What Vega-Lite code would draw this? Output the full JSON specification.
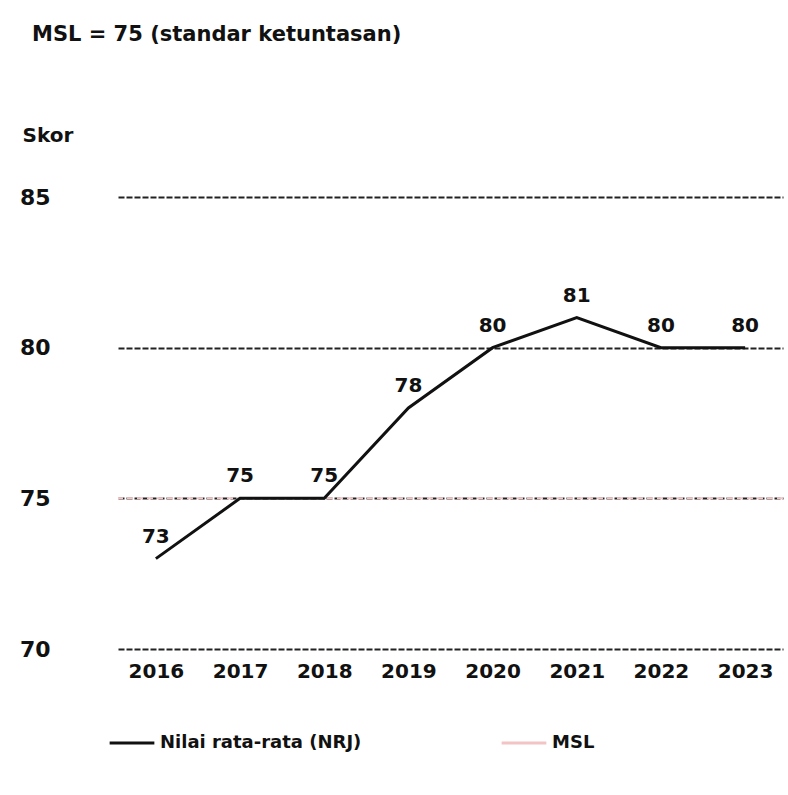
{
  "$schema": "https://vega.github.io/schema/vega-lite/v6.json",
  "autosize": {"type": "none"},
  "width": 665,
  "height": 452,
  "padding": {"left": 118, "top": 197, "right": 5, "bottom": 146},
  "background": "white",
  "config": {"view": {"stroke": null}, "font": "DejaVu Sans"},
  "title": {
    "text": "MSL = 75 (standar ketuntasan)",
    "anchor": "start",
    "frame": "group",
    "dx": -86,
    "offset": 80,
    "fontSize": 21,
    "fontWeight": "bold",
    "color": "#111"
  },
  "datasets": {
    "scores": [
      {"year": "2016", "value": 73, "series": "Nilai rata-rata (NRJ)"},
      {"year": "2017", "value": 75, "series": "Nilai rata-rata (NRJ)"},
      {"year": "2018", "value": 75, "series": "Nilai rata-rata (NRJ)"},
      {"year": "2019", "value": 78, "series": "Nilai rata-rata (NRJ)"},
      {"year": "2020", "value": 80, "series": "Nilai rata-rata (NRJ)"},
      {"year": "2021", "value": 81, "series": "Nilai rata-rata (NRJ)"},
      {"year": "2022", "value": 80, "series": "Nilai rata-rata (NRJ)"},
      {"year": "2023", "value": 80, "series": "Nilai rata-rata (NRJ)"}
    ],
    "msl": [{"msl": 75, "series": "MSL"}]
  },
  "layer": [
    {
      "data": {"name": "msl"},
      "mark": {"type": "rule", "strokeWidth": 2, "strokeDash": [6, 4]},
      "encoding": {
        "y": {"field": "msl", "type": "quantitative", "scale": {"domain": [70, 85]}},
        "color": {"field": "series", "type": "nominal"}
      }
    },
    {
      "data": {"name": "scores"},
      "mark": {"type": "line", "strokeWidth": 3},
      "encoding": {
        "x": {
          "field": "year", "type": "ordinal",
          "scale": {"type": "point", "padding": 0.45},
          "axis": {"title": null, "domain": false, "ticks": false, "labelAngle": 0, "labelFontSize": 20, "labelFontWeight": "bold", "labelColor": "#111", "labelPadding": 12}
        },
        "y": {
          "field": "value", "type": "quantitative",
          "scale": {"domain": [70, 85], "nice": false, "zero": false},
          "axis": {
            "values": [70, 75, 80, 85],
            "title": "Skor",
            "titleAngle": 0, "titleAlign": "left", "titleBaseline": "middle",
            "titleX": -96, "titleY": -62, "titleFontSize": 20, "titleFontWeight": "bold", "titleColor": "#111",
            "domain": false, "ticks": false,
            "labelFontSize": 22, "labelFontWeight": "bold", "labelColor": "#111", "labelPadding": 68,
            "gridColor": "#222", "gridDash": [6, 2], "gridWidth": 2
          }
        },
        "color": {
          "field": "series", "type": "nominal",
          "scale": {"domain": ["Nilai rata-rata (NRJ)", "MSL"], "range": ["#111111", "#f3c4c4"]},
          "legend": {
            "title": null, "orient": "none", "direction": "horizontal",
            "legendX": -10, "legendY": 522,
            "symbolType": "stroke", "symbolStrokeWidth": 3, "symbolSize": 2000,
            "labelFontSize": 18, "labelFontWeight": "bold", "labelColor": "#111",
            "columnPadding": 133, "labelLimit": 400
          }
        }
      }
    },
    {
      "data": {"name": "scores"},
      "mark": {"type": "text", "fontSize": 20, "fontWeight": "bold", "dy": -22, "color": "#111"},
      "encoding": {
        "x": {"field": "year", "type": "ordinal"},
        "y": {"field": "value", "type": "quantitative"},
        "text": {"field": "value", "type": "quantitative"}
      }
    }
  ]
}
